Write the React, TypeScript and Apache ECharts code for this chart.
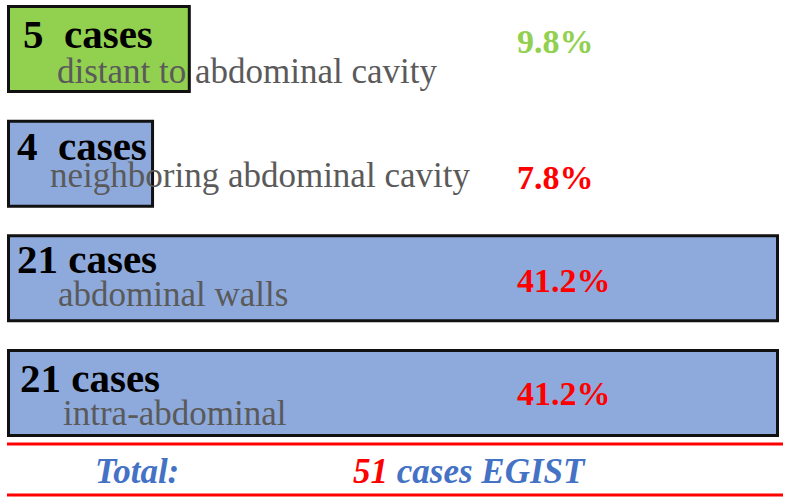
import React, { useEffect, useRef } from "react";
import * as echarts from "echarts";

const categories = [
  "distant to abdominal cavity",
  "neighboring abdominal cavity",
  "abdominal walls",
  "intra-abdominal",
];
const cases = [5, 4, 21, 21];
const barColors = ["#92D050", "#8EAADC", "#8EAADC", "#8EAADC"];
const pctColors = ["#92D050", "#FF0000", "#FF0000", "#FF0000"];
const mainSpacing = ["  ", "  ", " ", " "];
const totalLabel = "Total:";
const totalSuffix = "cases EGIST";

// layout offsets (relative to each bar's top-left corner)
const mainOffset = [[16, 29], [10, 26], [10, 25], [13, 29]];
const subOffset = [[50, 66], [43, 56], [51, 60], [56, 64]];
const pctOffset = [[510, 36], [510, 58], [510, 46], [510, 44]];

const SERIF = "'Liberation Serif', 'Times New Roman', serif";

export default function App() {
  const ref = useRef<HTMLDivElement>(null);
  useEffect(() => {
    if (!ref.current) return;
    const chart = echarts.init(ref.current, null, { renderer: "svg" });
    const total = cases.reduce((a, b) => a + b, 0);
    const maxV = Math.max(...cases);

    const mainData = cases.map((v, i) => ({
      value: v,
      itemStyle: { color: barColors[i] },
      label: { position: mainOffset[i] },
    }));
    const subData = cases.map((v, i) => ({
      value: v,
      label: { position: subOffset[i] },
    }));
    const pctData = cases.map((v, i) => ({
      value: v,
      label: { position: pctOffset[i], color: pctColors[i] },
    }));

    chart.setOption({
      animation: false,
      backgroundColor: "#ffffff",
      grid: { left: 7, right: 8, top: 49, height: 344, containLabel: false },
      xAxis: { type: "value", min: 0, max: maxV, show: false, splitLine: { show: false } },
      yAxis: { type: "category", data: categories, inverse: true, show: false, boundaryGap: false },
      series: [
        {
          type: "bar",
          barWidth: 88,
          barGap: "-100%",
          data: mainData,
          itemStyle: { borderColor: "#111", borderWidth: 3 },
          label: {
            show: true,
            verticalAlign: "middle",
            align: "left",
            fontFamily: SERIF,
            fontWeight: "bold",
            fontSize: 41,
            color: "#000",
            formatter: (p: any) => `${p.value}${mainSpacing[p.dataIndex]}cases`,
          },
          z: 2,
        },
        {
          type: "bar",
          barWidth: 88,
          barGap: "-100%",
          data: subData,
          itemStyle: { color: "transparent", borderWidth: 0 },
          label: {
            show: true,
            verticalAlign: "middle",
            align: "left",
            fontFamily: SERIF,
            fontSize: 35,
            color: "#5a5a5a",
            formatter: (p: any) => p.name,
          },
          z: 3,
        },
        {
          type: "bar",
          barWidth: 88,
          barGap: "-100%",
          data: pctData,
          itemStyle: { color: "transparent", borderWidth: 0 },
          label: {
            show: true,
            verticalAlign: "middle",
            align: "left",
            fontFamily: SERIF,
            fontWeight: "bold",
            fontSize: 34,
            formatter: (p: any) => `${((p.value / total) * 100).toFixed(1)}%`,
          },
          z: 3,
        },
      ],
      graphic: [
        {
          type: "line",
          shape: { x1: 7, y1: 444, x2: 783, y2: 444 },
          style: { stroke: "#FF0000", lineWidth: 3 },
        },
        {
          type: "line",
          shape: { x1: 7, y1: 495, x2: 783, y2: 495 },
          style: { stroke: "#FF0000", lineWidth: 3 },
        },
        {
          type: "text",
          x: 95,
          y: 471,
          style: {
            text: totalLabel,
            fill: "#4472C4",
            font: `italic bold 35px ${SERIF}`,
            verticalAlign: "middle",
            align: "left",
          },
        },
        {
          type: "text",
          x: 353,
          y: 471,
          style: {
            text: `{r|${total}}{b|\u00a0${totalSuffix}}`,
            verticalAlign: "middle",
            align: "left",
            rich: {
              r: { fill: "#FF0000", fontFamily: SERIF, fontStyle: "italic", fontWeight: "bold", fontSize: 35 },
              b: { fill: "#4472C4", fontFamily: SERIF, fontStyle: "italic", fontWeight: "bold", fontSize: 35 },
            },
          },
        },
      ],
    });
    return () => chart.dispose();
  }, []);
  return (
    <div
      ref={ref}
      style={{ position: "absolute", left: 0, top: 0, width: 787, height: 504, background: "#fff" }}
    />
  );
}
